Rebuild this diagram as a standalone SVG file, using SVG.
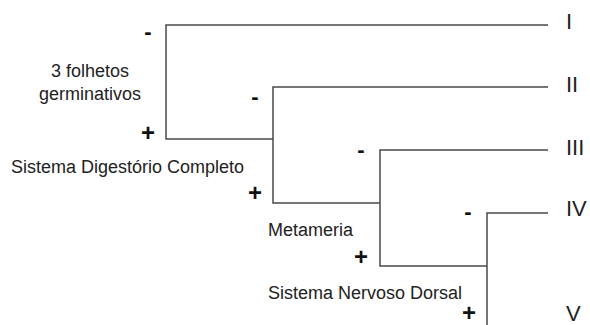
<svg xmlns="http://www.w3.org/2000/svg" width="590" height="325" viewBox="0 0 590 325">
<style>
.ln{fill:none;stroke:#4a4a4a;stroke-width:1.5}
.lab{font-family:"Liberation Sans",Arial,sans-serif;font-size:18px;fill:#222}
.num{font-family:"Liberation Sans",Arial,sans-serif;font-size:22px;fill:#222}
.sg{font-family:"Liberation Sans",Arial,sans-serif;font-size:22px;font-weight:bold;fill:#111;text-anchor:middle}
.pl{font-family:"Liberation Sans",Arial,sans-serif;font-size:24px;font-weight:bold;fill:#111;text-anchor:middle}
</style>
<rect width="590" height="325" fill="#fff"/>
<g id="connectors">
<polyline class="ln" points="548,25 166,25 166,139 273,139"/>
<polyline class="ln" points="548,87 273,87 273,203 380,203"/>
<polyline class="ln" points="548,150 380,150 380,266 487,266"/>
<polyline class="ln" points="548,213 487,213 487,325"/>
</g>
<g id="taxon-I"><text class="num" x="566" y="29">I</text></g>
<g id="taxon-II"><text class="num" x="566" y="92">II</text></g>
<g id="taxon-III"><text class="num" x="566" y="155">III</text></g>
<g id="taxon-IV"><text class="num" x="566" y="216">IV</text></g>
<g id="taxon-V"><text class="num" x="566" y="321">V</text></g>
<g id="char-folhetos">
<text class="lab" x="90" y="77" text-anchor="middle">3 folhetos</text>
<text class="lab" x="90" y="100" text-anchor="middle">germinativos</text>
<text class="sg" x="148" y="39">-</text>
<text class="pl" x="148" y="141">+</text>
</g>
<g id="char-digestorio">
<text class="lab" x="11" y="173">Sistema Digestório Completo</text>
<text class="sg" x="255" y="104">-</text>
<text class="pl" x="255" y="201">+</text>
</g>
<g id="char-metameria">
<text class="lab" x="268" y="236">Metameria</text>
<text class="sg" x="361" y="157">-</text>
<text class="pl" x="361" y="265">+</text>
</g>
<g id="char-nervoso">
<text class="lab" x="268" y="299">Sistema Nervoso Dorsal</text>
<text class="sg" x="468" y="219">-</text>
<text class="pl" x="469" y="321">+</text>
</g>
</svg>
